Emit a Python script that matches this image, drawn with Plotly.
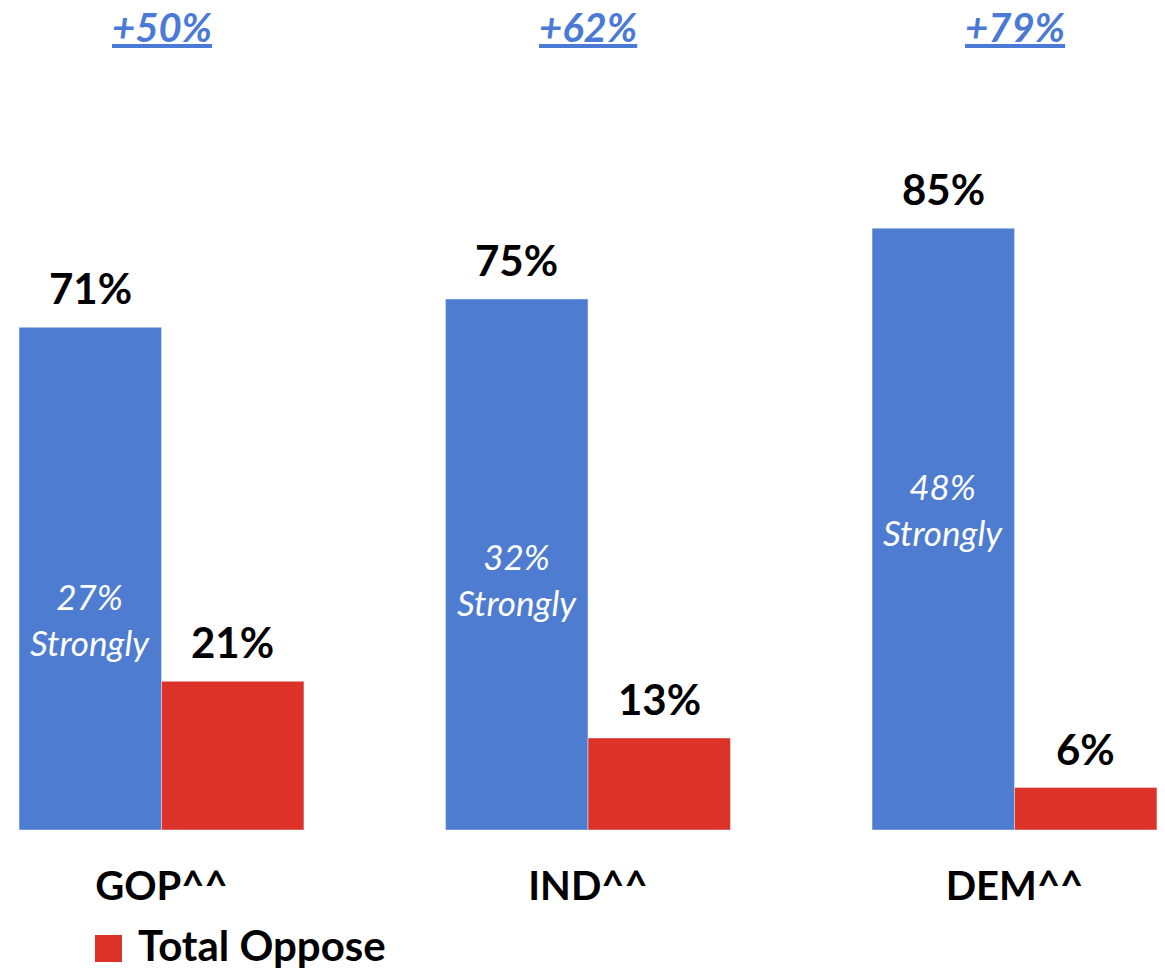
import plotly.graph_objects as go

categories = ["GOP^^", "IND^^", "DEM^^"]
total_support = [71, 75, 85]
total_oppose = [21, 13, 6]
strongly_support = [27, 32, 48]
strong_label_y = [29.8, 35.4, 45.4]

BLUE = "#4E7CD1"
RED = "#DC3227"
FONT = "Lato, 'Open Sans', sans-serif"

W, H = 1165, 973
PLOT_BOTTOM = 830
PX_PER_PCT = 7.08
CAT_PX = 426.5

fig = go.Figure()
fig.add_trace(go.Bar(x=categories, y=total_support, name="Total Support",
                     marker_color=BLUE, showlegend=False))
fig.add_trace(go.Bar(x=categories, y=total_oppose, name="Total Oppose",
                     marker_color=RED, showlegend=False))

ann = []
off = 0.334 / 2
for i, c in enumerate(categories):
    ann.append(dict(x=i - off, y=total_support[i], xref="x", yref="y",
                    text=f"<b>{total_support[i]}%</b>", showarrow=False,
                    yanchor="bottom", yshift=12,
                    font=dict(family=FONT, size=42, color="black")))
    ann.append(dict(x=i + off, y=total_oppose[i], xref="x", yref="y",
                    text=f"<b>{total_oppose[i]}%</b>", showarrow=False,
                    yanchor="bottom", yshift=12,
                    font=dict(family=FONT, size=42, color="black")))
    ann.append(dict(x=i - off, y=strong_label_y[i], xref="x", yref="y",
                    text=f"<i>{strongly_support[i]}%<br>Strongly</i>", showarrow=False,
                    yanchor="middle",
                    font=dict(family=FONT, size=35, color="white")))
    diff = total_support[i] - total_oppose[i]
    ann.append(dict(x=i, y=1, xref="x", yref="paper",
                    text=f"<b><i><u>+{diff}%</u></i></b>", showarrow=False,
                    yanchor="middle", yshift=-27,
                    font=dict(family=FONT, size=40, color="#4A7AD6")))

# legend: swatch + label
ann.append(dict(x=136 / W, y=(PLOT_BOTTOM - 945) / PLOT_BOTTOM, xref="paper", yref="paper",
                showarrow=False, text="<b>Total Oppose</b>",
                xanchor="left", yanchor="middle",
                font=dict(family=FONT, size=42, color="black")))
shapes = [dict(type="rect", xref="paper", yref="paper",
               x0=95 / W, x1=122 / W,
               y0=(PLOT_BOTTOM - 962) / PLOT_BOTTOM, y1=(PLOT_BOTTOM - 935) / PLOT_BOTTOM,
               fillcolor=RED, line=dict(width=0))]

fig.update_layout(
    width=W, height=H,
    margin=dict(l=0, r=0, t=0, b=H - PLOT_BOTTOM),
    plot_bgcolor="white", paper_bgcolor="white",
    barmode="group", bargap=0.332, bargroupgap=0,
    annotations=ann, shapes=shapes,
    showlegend=False,
)

x0 = -161.5 / CAT_PX
fig.update_xaxes(type="category", range=[x0, x0 + W / CAT_PX], showgrid=False,
                 showline=False, zeroline=False, ticks="",
                 tickfont=dict(family=FONT, size=40, color="black"),
                 ticklabelstandoff=29, tickprefix="<b>", ticksuffix="</b>")
fig.update_yaxes(range=[0, PLOT_BOTTOM / PX_PER_PCT], visible=False, showgrid=False)

fig.write_html("out.html", config={"displayModeBar": False},
               post_script="document.body.style.margin='0';document.body.style.overflow='hidden';")
